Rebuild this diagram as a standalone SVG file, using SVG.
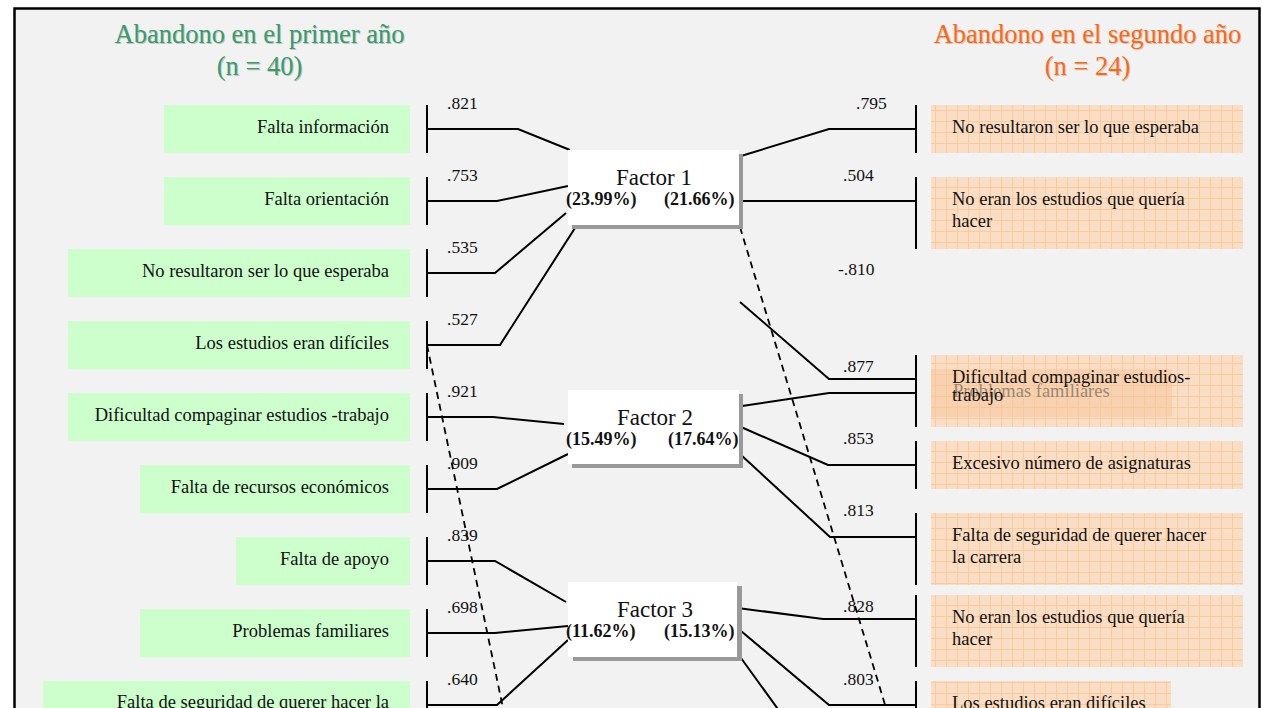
<svg xmlns="http://www.w3.org/2000/svg" width="1262" height="708" viewBox="0 0 1262 708">
<style>
.t{font-family:"Liberation Serif","Times New Roman",serif;font-size:18.5px;fill:#111}
.r{text-anchor:end}
.n{font-family:"Liberation Serif","Times New Roman",serif;font-size:17.5px;fill:#111}
.fl{font-family:"Liberation Serif","Times New Roman",serif;font-size:23px;fill:#111;text-anchor:middle}
.pc{font-family:"Liberation Serif","Times New Roman",serif;font-size:18px;font-weight:bold;fill:#111}
.ttl{font-family:"Liberation Serif","Times New Roman",serif;font-size:26.5px;text-anchor:middle}
.g{fill:#ccffcc}
.o{fill:url(#grid)}
.ln{stroke:#000;stroke-width:2;fill:none}
.ds{stroke:#000;stroke-width:1.8;fill:none;stroke-dasharray:7 5}
.fb{fill:#fff}
.sh{fill:#999}
</style>
<defs>
<pattern id="grid" width="11" height="11" patternUnits="userSpaceOnUse">
<rect width="11" height="11" fill="#f9ddc5"/>
<path d="M0 0.5H11M0.5 0V11" stroke="#fccb9c" stroke-width="1"/>
</pattern>
</defs>
<rect x="0" y="0" width="1262" height="708" fill="#fff"/>
<rect x="14.5" y="8.5" width="1245" height="720" fill="#f2f2f2" stroke="#000" stroke-width="2.5"/>

<g id="title-left">
<text class="ttl" x="260.5" y="44" fill="#b8c8c0">Abandono en el primer año</text>
<text class="ttl" x="259.5" y="43" fill="#3c9a6c">Abandono en el primer año</text>
<text class="ttl" x="260.5" y="76" fill="#b8c8c0">(n = 40)</text>
<text class="ttl" x="259.5" y="75" fill="#3c9a6c">(n = 40)</text>
</g>
<g id="title-right">
<text class="ttl" x="1088.5" y="44" fill="#e8c0a8">Abandono en el segundo año</text>
<text class="ttl" x="1087.5" y="43" fill="#f76a1c">Abandono en el segundo año</text>
<text class="ttl" x="1088.5" y="76" fill="#e8c0a8">(n = 24)</text>
<text class="ttl" x="1087.5" y="75" fill="#f76a1c">(n = 24)</text>
</g>

<g id="left-nodes">
<g id="l1"><rect class="g" x="164" y="105" width="246" height="48"/><text class="t r" x="389" y="133">Falta información</text></g>
<g id="l2"><rect class="g" x="164" y="177" width="246" height="48"/><text class="t r" x="389" y="205">Falta orientación</text></g>
<g id="l3"><rect class="g" x="68" y="249" width="342" height="48"/><text class="t r" x="389" y="277">No resultaron ser lo que esperaba</text></g>
<g id="l4"><rect class="g" x="68" y="321" width="342" height="48"/><text class="t r" x="389" y="349">Los estudios eran difíciles</text></g>
<g id="l5"><rect class="g" x="68" y="393" width="342" height="48"/><text class="t r" x="389" y="421">Dificultad compaginar estudios -trabajo</text></g>
<g id="l6"><rect class="g" x="140" y="465" width="270" height="48"/><text class="t r" x="389" y="493">Falta de recursos económicos</text></g>
<g id="l7"><rect class="g" x="236" y="537" width="174" height="48"/><text class="t r" x="389" y="565">Falta de apoyo</text></g>
<g id="l8"><rect class="g" x="140" y="609" width="270" height="48"/><text class="t r" x="389" y="637">Problemas familiares</text></g>
<g id="l9"><rect class="g" x="43" y="681" width="367" height="48"/><text class="t r" x="389" y="708">Falta de seguridad de querer hacer la</text></g>
</g>

<g id="right-nodes">
<g id="r1"><rect class="o" x="931" y="105" width="312" height="48"/><text class="t" x="952" y="133">No resultaron ser lo que esperaba</text></g>
<g id="r2"><rect class="o" x="931" y="177" width="312" height="72"/><text class="t" x="952" y="205">No eran los estudios que quería</text><text class="t" x="952" y="227">hacer</text></g>
<g id="r3"><rect class="o" x="931" y="355" width="312" height="72"/>
<g id="r3b"><rect x="931" y="369" width="241" height="48" fill="#f7c597" opacity="0.45"/><text class="t" x="953" y="397" style="fill:#857565" opacity="0.8">Problemas familiares</text></g>
<text class="t" x="952" y="383">Dificultad compaginar estudios-</text><text class="t" x="952" y="401">trabajo</text></g>
<g id="r4"><rect class="o" x="931" y="441" width="312" height="48"/><text class="t" x="952" y="469">Excesivo número de asignaturas</text></g>
<g id="r5"><rect class="o" x="931" y="513" width="312" height="72"/><text class="t" x="952" y="541">Falta de seguridad de querer hacer</text><text class="t" x="952" y="563">la carrera</text></g>
<g id="r6"><rect class="o" x="931" y="595" width="312" height="72"/><text class="t" x="952" y="623">No eran los estudios que quería</text><text class="t" x="952" y="645">hacer</text></g>
<g id="r7"><rect class="o" x="931" y="681" width="240" height="48"/><text class="t" x="952" y="709">Los estudios eran difíciles</text></g>
</g>

<g id="connectors">
<path class="ds" d="M427 345L503 708"/>
<path class="ds" d="M740 227L886 708"/>
<g id="left-brackets">
<path class="ln" d="M427 105V153M427 177V225M427 249V297M427 321V369M427 393V441M427 465V513M427 537V585M427 609V657M427 681V729"/>
<path class="ln" d="M427 129H518L570 150"/>
<path class="ln" d="M427 201H497L568 186"/>
<path class="ln" d="M427 273H495L566 213"/>
<path class="ln" d="M427 345H500L575 228"/>
<path class="ln" d="M427 417H493L564 424"/>
<path class="ln" d="M427 489H497L568 454"/>
<path class="ln" d="M427 561H495L566 602"/>
<path class="ln" d="M427 633H495L568 626"/>
<path class="ln" d="M427 705H497L568 640"/>
</g>
<g id="right-brackets">
<path class="ln" d="M916 105V153M916 177V249M916 355V427M916 441V489M916 513V585M916 595V667M916 681V729"/>
<path class="ln" d="M741 156L829 129H916"/>
<path class="ln" d="M739 201H916"/>
<path class="ln" d="M740 302L829 379H916"/>
<path class="ln" d="M742 406L829 393H916"/>
<path class="ln" d="M741 427L828 465H916"/>
<path class="ln" d="M741 455L830 537H916"/>
<path class="ln" d="M730 607L823 619H916"/>
<path class="ln" d="M741 631L829 705H916"/>
<path class="ln" d="M741 658L780 712"/>
</g>
<g id="loadings">
<text class="n" x="447" y="109">.821</text>
<text class="n" x="447" y="181">.753</text>
<text class="n" x="447" y="253">.535</text>
<text class="n" x="447" y="325">.527</text>
<text class="n" x="447" y="397">.921</text>
<text class="n" x="447" y="469">.909</text>
<text class="n" x="447" y="541">.839</text>
<text class="n" x="447" y="613">.698</text>
<text class="n" x="447" y="685">.640</text>
<text class="n" x="856" y="109">.795</text>
<text class="n" x="843" y="181">.504</text>
<text class="n" x="838" y="275">-.810</text>
<text class="n" x="843" y="372">.877</text>
<text class="n" x="843" y="444">.853</text>
<text class="n" x="843" y="516">.813</text>
<text class="n" x="843" y="612">.828</text>
<text class="n" x="843" y="685">.803</text>
</g>
</g>

<g id="factor1">
<rect class="sh" x="572" y="154" width="171" height="75"/>
<rect class="fb" x="568" y="150" width="171" height="75"/>
<text class="fl" x="654" y="185">Factor 1</text>
<text class="pc" x="566" y="205">(23.99%)</text>
<text class="pc" x="664" y="205">(21.66%)</text>
</g>
<g id="factor2">
<rect class="sh" x="572" y="394" width="171" height="74"/>
<rect class="fb" x="568" y="390" width="171" height="74"/>
<text class="fl" x="655" y="425">Factor 2</text>
<text class="pc" x="566" y="445">(15.49%)</text>
<text class="pc" x="668" y="445">(17.64%)</text>
</g>
<g id="factor3">
<rect class="sh" x="573" y="586" width="169" height="75"/>
<rect class="fb" x="568" y="582" width="169" height="75"/>
<text class="fl" x="655" y="617">Factor 3</text>
<text class="pc" x="566" y="637">(11.62%)</text>
<text class="pc" x="664" y="637">(15.13%)</text>
</g>
</svg>
